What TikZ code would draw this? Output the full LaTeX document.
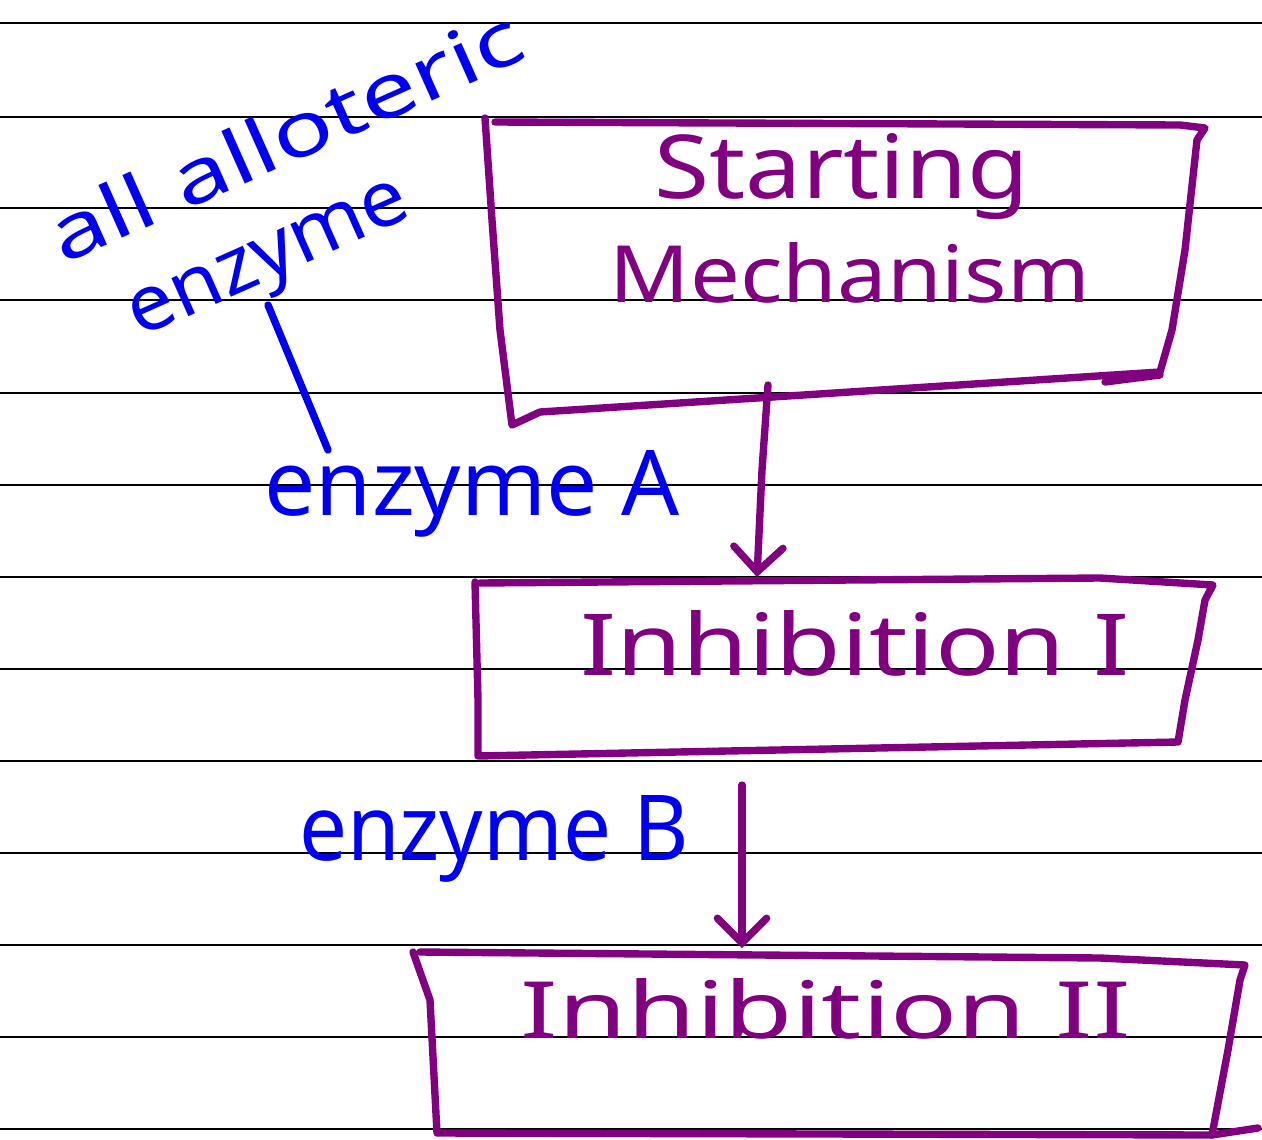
\documentclass[tikz,border=0pt]{standalone}
\usepackage{fontspec}
\setmainfont{Noto Sans}
\usetikzlibrary{arrows.meta}
\definecolor{pen}{HTML}{800080}
\definecolor{ink}{HTML}{0000F0}
\newcommand\fitwh[3]{\resizebox{#1}{#2}{#3}}
\tikzset{
  ruled/.style={black,line width=1.2pt},
  boxline/.style={pen,line width=4.2pt,line join=round,line cap=round},
  flow/.style={pen,line width=4.2pt,line cap=round,-{Straight Barb[length=14pt,width=28pt,line cap=round]}},
  ptext/.style={pen,inner sep=0pt},
  btext/.style={ink,inner sep=0pt},
  bline/.style={ink,line width=4.2pt,line cap=round}
}
\begin{document}
\begin{tikzpicture}[x=0.02cm,y=-0.02cm]
\useasboundingbox (0,0) rectangle (1262,1140);
\foreach \yy in {23,117,208,300,393,485,577,669,761,853,945,1037,1129}
  \draw[ruled] (0,\yy) -- (1262,\yy);
% box 1
\draw[boxline] (485,118) -- (492,220) -- (500,330) -- (512,425) -- (540,412) -- (1160,372)
  -- (1172,330) -- (1185,250) -- (1197,140) -- (1205,128) -- (1180,125) -- (495,122);
\draw[boxline] (1105,382) -- (1160,375);
\coordinate (s1) at (768,385);
\coordinate (t1) at (757,577);
% box 2
\draw[boxline] (475,582) -- (478,700) -- (478,756) -- (1178,742) -- (1185,700) -- (1198,640) -- (1205,600) -- (1213,585) -- (1100,578) -- (480,583);
\coordinate (s2) at (742,785);
\coordinate (t2) at (742,948);
% box 3
\draw[boxline] (413,952) -- (430,1000) -- (437,1133) -- (1212,1135) -- (1228,1050) -- (1240,980) -- (1245,965) -- (1100,958) -- (420,952);
\draw[boxline] (1212,1135) -- (1258,1128);
\draw[flow] (s1) -- (762,470) -- (t1);
\draw[flow] (s2) -- (t2);
% purple labels
\node[ptext,anchor=base] (st) at (842,198) {\fitwh{7.5cm}{1.3cm}{Starting}};
\node[ptext,anchor=base] (me) at (850,302) {\fitwh{9.6cm}{1.2cm}{Mechanism}};
\node[ptext,anchor=base] (i1) at (855,675) {\fitwh{11cm}{1.3cm}{Inhibition I}};
\node[ptext,anchor=base] (i2) at (826,1038) {\fitwh{12.2cm}{1.2cm}{Inhibition II}};
% blue labels
\node[btext,rotate=24] (al) at (285,135) {\fitwh{10.2cm}{1.15cm}{all alloteric}};
\node[btext,rotate=24] (en) at (272,266) {\fitwh{6cm}{0.85cm}{enzyme}};
\node[btext,anchor=base] (ea) at (472,515) {\fitwh{8.3cm}{1.3cm}{enzyme A}};
\node[btext,anchor=base] (eb) at (494,860) {\fitwh{7.8cm}{1.3cm}{enzyme B}};
\coordinate (la) at (268,305);
\coordinate (lb) at (328,450);
\draw[bline] (la) -- (lb);
\end{tikzpicture}
\end{document}
